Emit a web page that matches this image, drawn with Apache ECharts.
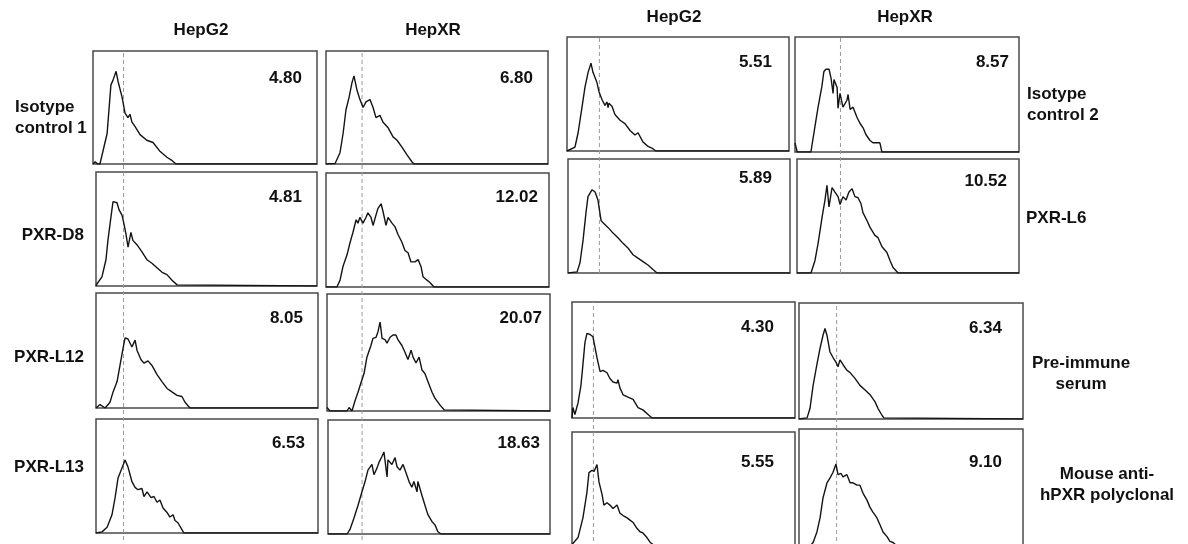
<!DOCTYPE html>
<html><head><meta charset="utf-8">
<script src="https://cdn.jsdelivr.net/npm/echarts@6/dist/echarts.min.js"></script>
<style>html,body{margin:0;padding:0;background:#fff}#c{width:1188px;height:544px}</style>
</head><body><div id="c"></div><script>
// ---------- DATA ----------
const columnNames = ['HepG2', 'HepXR'];
const leftRowLabels = ['Isotype\ncontrol 1', 'PXR-D8', 'PXR-L12', 'PXR-L13'];
const rightRowLabels = ['Isotype\ncontrol 2', 'PXR-L6', 'Pre-immune\nserum', 'Mouse anti-\nhPXR polyclonal'];
// MFI values, panel order: left group rows (HepG2, HepXR), then right group rows
const mfiValues = ['4.80','6.80','4.81','12.02','8.05','20.07','6.53','18.63',
                   '5.51','8.57','5.89','10.52','4.30','6.34','5.55','9.10'];
// gate (dashed line) positions, % of fluorescence axis
const gates = [12.8, 15.8, 14.6, 20.3, 9.6, 16.8];

// histograms: [fluorescence channel %, relative count %]
const iso1_G2 = [[0,0],[1,2],[2,0],[3.1,0],[6.3,27],[8,70],[8.9,74],[10.3,82],[11.2,73],[13,59],[14.3,45],[15.6,41],[16.5,44],[17.4,37],[18.8,33],[21,26],[24,21],[26.8,19],[30,11],[33,6],[35,3.5],[37,0],[100,0]];
const iso1_XR = [[0,0],[4.1,0.5],[6.3,10],[7.7,27],[9,48],[10.4,59],[11.7,72],[12.6,78],[14,65],[15.3,57],[16.7,50],[18,55],[19.8,57],[21.2,50],[22.5,41],[24.3,43],[25.7,37],[28,32],[30.2,24],[32,21],[34.2,15],[36.5,8],[38.7,2],[39.6,0],[100,0]];
const d8_G2 = [[0,0],[0.5,2],[2.7,8],[4.5,23],[5.4,40],[6.8,61],[7.7,74],[9.5,73],[10.4,67],[11.8,62],[12.7,54],[13.6,45],[14.5,34],[15.8,47],[16.7,40],[18.6,36],[20.8,30],[23.1,23],[25.3,20],[27.6,16],[29.9,12],[32.1,10],[34.4,5],[36.7,1],[37.5,0],[100,0]];
const d8_XR = [[0,0],[4.9,0],[6.3,6],[7.6,18],[9.4,28],[10.8,39],[12.1,48],[13.5,59],[14.3,56],[15.2,61],[16.6,56],[17.9,61],[18.8,65],[20.2,61],[21.1,54],[22.4,63],[23.3,69],[24.7,73],[25.6,66],[26.9,54],[27.8,61],[29.6,56],[30.9,53],[32.3,46],[34.1,39],[35.4,32],[36.8,30],[38.1,22],[39.9,22],[41.3,24],[42.6,18],[43.5,9],[45.3,6],[46.6,4],[48.4,0],[100,0]];
const l12_G2 = [[0,0],[0.5,1],[1.8,3],[4.1,0],[6.3,5],[7.7,14],[9.5,23],[10.8,37],[12.2,52],[13.1,61],[14.4,60],[16.2,53],[17.6,59],[18.5,50],[20.3,42],[21.6,39],[23.4,41],[25.2,37],[27.5,29],[29.7,23],[32,17],[34.2,14],[36.5,11],[38.7,10],[40.1,5],[42.3,0],[100,0]];
const l12_XR = [[0,3],[1.3,0],[9,0],[9.9,3],[11.2,0],[12.6,9],[13.9,16],[15.2,24],[16.6,32],[17.9,46],[19.7,56],[20.6,62],[22,63],[22.9,68],[23.8,76],[24.7,62],[26,61],[26.9,58],[28.3,63],[29.6,65],[30.9,65],[31.8,61],[33.6,56],[35,50],[36.3,44],[37.7,52],[38.6,46],[39.9,41],[41.3,46],[42.6,35],[43.9,32],[45.3,25],[47.1,16],[48.4,11],[50.7,5],[52.5,1],[53,0],[100,0]];
const l13_G2 = [[0,0],[0.9,0],[2.7,1],[5,5],[7.2,16],[8.6,31],[9.9,48],[11.7,57],[13.1,64],[14.4,58],[16.2,45],[17.6,40],[18.9,38],[20.7,39],[21.6,32],[23,36],[24.8,31],[26.1,32],[27.5,27],[28.8,29],[30.2,22],[32,18],[33.3,14],[34.7,16],[35.6,11],[36.9,9],[38.7,3],[39.6,0],[100,0]];
const l13_XR = [[0,0],[8.6,0],[9.9,4],[11.7,14],[13.5,25],[15.3,37],[16.7,46],[18,56],[19.8,61],[20.7,52],[22.1,58],[23,63],[24.3,68],[25.2,72],[26.6,50],[27,65],[28.8,61],[30.2,67],[31.1,59],[32.4,56],[33.8,61],[35.1,54],[36.5,46],[37.8,41],[38.7,46],[40.1,37],[40.5,46],[42.3,34],[43.7,25],[45,17],[46.8,11],[48.2,8],[49.5,2],[50.9,0],[100,0]];
const iso2_G2 = [[0,0],[0.5,1],[3.6,3.5],[5,16],[6.8,39],[8.1,56],[9.5,69],[10.8,77],[11.7,69],[13.5,60],[14.4,52],[15.8,45],[17.1,40],[18,43],[18.5,38],[18.9,42],[20.3,39],[21.6,32],[23.9,27],[26.1,24],[28.4,18],[30.6,14],[32,16],[34.2,8],[36.5,4],[38.7,2],[40,0],[100,0]];
const iso2_XR = [[0,8],[1,0],[7.1,0],[8.9,22],[10.3,39],[12,57],[12.9,70],[13.8,72],[15.2,72],[16.1,64],[17,51],[17.4,63],[18.8,56],[19.2,38],[20.1,51],[21.4,39],[23.2,45],[23.7,50],[24.6,37],[25.9,39],[27.7,30],[29,25],[30.4,21],[31.7,15],[33.5,10],[34.8,8],[37.9,8],[38.8,0],[100,0]];
const l6_G2 = [[0,0],[4.1,1],[5.4,9],[6.8,29],[8.1,53],[9,67],[10.8,73],[12.2,71],[13.5,64],[14.9,46],[15.8,44],[18,40],[20.3,35],[22.5,31],[24.8,26],[27,22],[29.3,16],[31.5,13],[33.8,10],[36,7],[38.3,3],[40.1,0],[100,0]];
const l6_XR = [[0,0],[6.3,0],[8.1,11],[9.5,26],[11.3,49],[12.6,64],[13.5,77],[14.4,58],[15.8,75],[17.1,71],[18.5,67],[19.4,60],[20.7,67],[22.1,64],[23.4,71],[24.8,74],[26.1,67],[27.5,66],[28.8,61],[29.7,53],[31.5,46],[32.9,40],[35.1,33],[36.5,31],[38.3,23],[40.5,18],[41.9,11],[43.2,5],[45.5,0],[100,0]];
const pre_G2 = [[0,0],[0.4,9],[1.3,3],[2.7,13],[4,28],[4.9,46],[5.8,65],[6.7,73],[8.1,72],[9.4,70],[10.3,61],[11.2,52],[12.6,40],[13.9,41],[15.7,39],[17,34],[18.4,31],[20.2,30],[20.6,33],[21.5,26],[22.9,20],[25.1,18],[27.4,16],[29.6,9],[31.8,7],[34.1,3],[35.9,0],[100,0]];
const pre_XR = [[0,0],[3.6,1],[4.9,9],[6.3,29],[8,47],[9.4,61],[10.7,72],[11.6,78],[12.5,72],[13.8,58],[15.2,53],[16.5,49],[17.4,45],[18.3,51],[19.6,47],[21.4,42],[22.8,40],[25,35],[27.2,29],[29.5,25],[31.7,21],[33.9,15],[35.3,9],[37.1,3],[37.9,1],[38.5,0],[100,0]];
const poly_G2 = [[0,3],[2.7,9],[4.9,26],[6.7,48],[7.6,65],[9,67],[9.9,66],[11.2,72],[12.1,57],[13.5,46],[14.3,37],[15.7,39],[17,37],[18.4,34],[20.2,37],[21.5,30],[22.9,28],[24.7,26],[26,24],[27.4,22],[29.1,17],[30.5,14],[31.8,13],[33.6,9],[35,5],[36.3,3],[38,0],[100,0]];
const poly_XR = [[0,0],[4.9,0],[6.3,3],[8,12],[9.4,24],[10.7,41],[12.5,54],[13.8,58],[15.2,63],[16.5,70],[17.4,61],[18.8,62],[19.6,59],[21.4,61],[22.8,54],[24.1,54],[25.9,52],[27.2,52],[28.6,45],[30.4,39],[31.7,33],[33,29],[34.8,24],[36.2,18],[37.5,12],[39.3,8],[40.6,4],[42,3],[43.7,0],[100,0]];

const histograms = [iso1_G2, iso1_XR, d8_G2, d8_XR, l12_G2, l12_XR, l13_G2, l13_XR,
                    iso2_G2, iso2_XR, l6_G2, l6_XR, pre_G2, pre_XR, poly_G2, poly_XR];

// ---------- LAYOUT ----------
const panels = [
  {l:93,t:51,w:224,h:113, vx:302,vy:78},
  {l:326,t:51,w:222,h:113, vx:533,vy:78},
  {l:96,t:172,w:221,h:114, vx:302,vy:197},
  {l:326,t:173,w:223,h:114, vx:538,vy:197},
  {l:96,t:293,w:222,h:115, vx:303,vy:318},
  {l:327,t:294,w:223,h:117, vx:542,vy:318},
  {l:96,t:419,w:222,h:114, vx:305,vy:443},
  {l:328,t:420,w:222,h:114, vx:540,vy:443},
  {l:567,t:37,w:222,h:114, vx:772,vy:62},
  {l:795,t:37,w:224,h:115, vx:1009,vy:62},
  {l:568,t:159,w:222,h:114, vx:772,vy:178},
  {l:797,t:159,w:222,h:114, vx:1007,vy:181},
  {l:572,t:302,w:223,h:116, vx:774,vy:327},
  {l:799,t:303,w:224,h:116, vx:1002,vy:328},
  {l:572,t:432,w:223,h:116, vx:774,vy:462},
  {l:799,t:429,w:224,h:117, vx:1002,vy:462}
];
const gateBoxes = [
  {l:95,t:51,w:223,h:489},
  {l:327,t:51,w:222,h:489},
  {l:567,t:37,w:222,h:236},
  {l:795,t:37,w:224,h:236},
  {l:572,t:302,w:223,h:246},
  {l:799,t:303,w:224,h:245}
];
const headerPos = [[201,30],[433,30],[674,17],[905,17]];
const leftLabelPos = [[15,117.5,'left'],[84,235,'right'],[84,357,'right'],[84,467,'right']];
const rightLabelPos = [[1027,104.5,'left'],[1026,218,'left'],[1081,373.5,'center'],[1107,485,'center']];

const FONT = 'bold 17px "Liberation Sans", Arial, sans-serif';
const grids = [], xAxes = [], yAxes = [], series = [], graphics = [];

gateBoxes.forEach((b, i) => {
  grids.push({left:b.l, top:b.t, width:b.w, height:b.h, show:false, containLabel:false, outerBoundsMode:'none'});
  const gi = grids.length - 1;
  xAxes.push({gridIndex:gi, type:'value', min:0, max:100, show:false});
  yAxes.push({gridIndex:gi, type:'value', min:0, max:100, show:false});
  series.push({type:'line', xAxisIndex:gi, yAxisIndex:gi, data:[[gates[i],0],[gates[i],100]],
    showSymbol:false, silent:true, z:3, clip:false,
    lineStyle:{color:'#9a9a9a', width:1, type:[4,3]}});
});

panels.forEach((p, i) => {
  grids.push({left:p.l, top:p.t, width:p.w, height:p.h, show:true, containLabel:false, outerBoundsMode:'none',
    borderColor:'#4a4a4a', borderWidth:1.5, backgroundColor:'transparent'});
  const gi = grids.length - 1;
  xAxes.push({gridIndex:gi, type:'value', min:0, max:100, show:false});
  yAxes.push({gridIndex:gi, type:'value', min:0, max:100, show:false});
  series.push({type:'line', xAxisIndex:gi, yAxisIndex:gi, data:histograms[i],
    showSymbol:false, silent:true, z:4,
    lineStyle:{color:'#141414', width:1.4}});
  graphics.push({type:'text', x:p.vx, y:p.vy, silent:true,
    style:{text:mfiValues[i], font:FONT, fill:'#111', textAlign:'right', align:'right',
      textVerticalAlign:'middle', verticalAlign:'middle'}});
});

function addText(txt, x, y, align) {
  graphics.push({type:'text', x:x, y:y, silent:true,
    style:{text:txt, font:FONT, fill:'#111', lineHeight:21,
      textAlign:align, align:align, textVerticalAlign:'middle', verticalAlign:'middle'}});
}
headerPos.forEach((h, i) => addText(columnNames[i % 2], h[0], h[1], 'center'));
leftRowLabels.forEach((t, i) => addText(t, leftLabelPos[i][0], leftLabelPos[i][1], leftLabelPos[i][2]));
rightRowLabels.forEach((t, i) => addText(t, rightLabelPos[i][0], rightLabelPos[i][1], rightLabelPos[i][2]));

const chart = echarts.init(document.getElementById('c'), null, {renderer:'canvas'});
chart.setOption({
  backgroundColor:'#ffffff',
  animation:false,
  grid:grids, xAxis:xAxes, yAxis:yAxes, series:series, graphic:graphics
});
</script></body></html>
